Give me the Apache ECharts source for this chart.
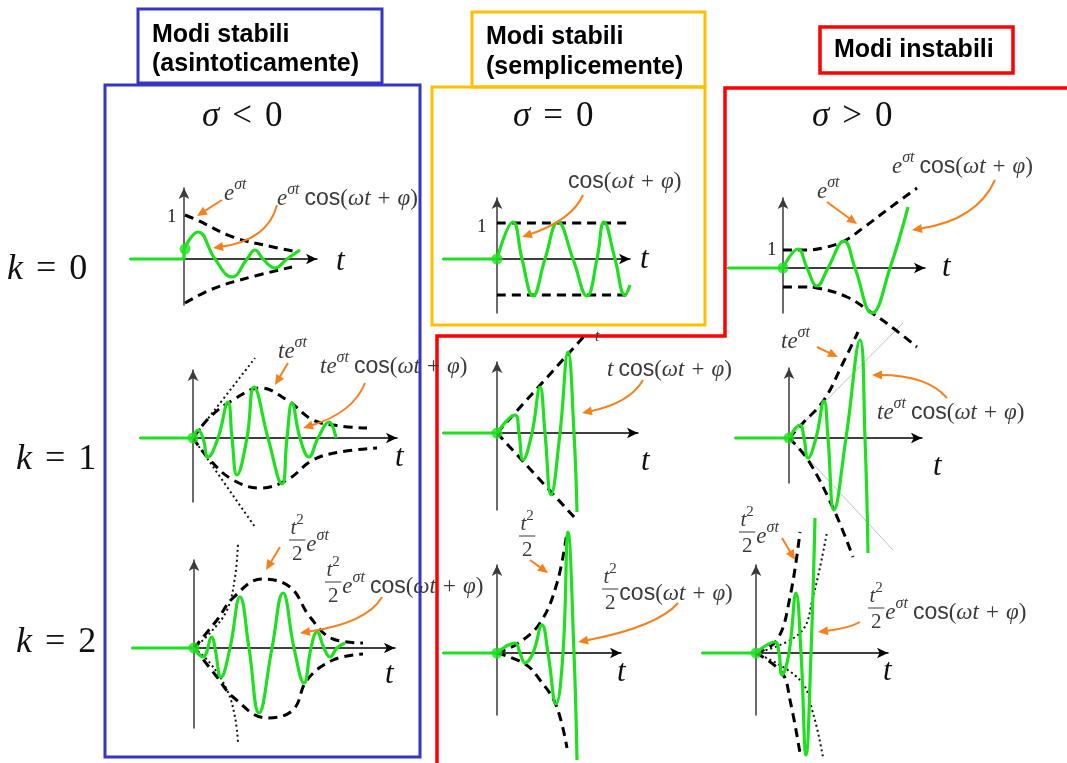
<!DOCTYPE html>
<html><head><meta charset="utf-8">
<script src="https://cdn.jsdelivr.net/npm/echarts@6/dist/echarts.min.js"></script>
<style>html,body{margin:0;padding:0;background:#fff}#c{width:1067px;height:763px}</style>
</head><body><div id="c"></div>
<script>
// ===== DATA (t to the right of each panel origin, y upward) =====
const rowLabels = ['0', '1', '2'];            // k = 0, 1, 2
const colSigns = ['<', '=', '>'];             // sigma < 0, = 0, > 0
const headerLines = [['Modi stabili', '(asintoticamente)'], ['Modi stabili', '(semplicemente)'], ['Modi instabili']];

// sigma<0, k=0
const A_flat = [[-54, 0], [0, 0], [0, 10]];
const A_wave = [[0, 10], [14, 27], [31, 0], [48, -18], [63, 0], [71, 9], [79, 0], [91, -9], [103, 0], [116, 9]];
const A_envUp = [[1, 44], [13, 39], [49, 22], [89, 12], [109, 8]];
const A_envLo = [[1, -44], [26, -31], [56, -21], [108, -8]];
// sigma=0, k=0
const B_flat = [[-54, 0], [0, 0]];
const B_wave = [[0, 0], [16, 37], [25, 0], [36, -37], [48, 0], [61, 37], [76, 0], [90, -37], [100, 0], [107, 37], [118, 0], [128, -36], [133, -26]];
const B_envUp = [[0, 36], [136, 36]];
const B_envLo = [[0, -36], [136, -36]];
// sigma>0, k=0
const C_flat = [[-55, 0], [0, 0]];
const C_wave = [[0, 0], [15, 19], [24, 0], [34, -18], [45, 0], [61, 27], [72, 0], [89, -45], [107, 0], [125, 61]];
const C_envUp = [[0, 18], [20, 18], [40, 20], [61, 27], [80, 40], [104, 58], [134, 80]];
const C_envLo = [[0, -19], [20, -19], [34, -20], [64, -29], [89, -45], [110, -60], [134, -79]];
// sigma<0, k=1
const D_flat = [[-53, 0], [0, 0]];
const D_wave = [[0, 0], [5, 8], [10, 0], [15, -19], [25, 0], [35, 36], [39, 0], [44, -37], [54, 0], [61, 51], [75, 0], [89, -46], [94, 0], [99, 35], [107, 0], [116, -19], [125, 0], [136, 16], [143, 0]];
const D_envUp = [[0, 0], [17, 21], [40, 38], [67, 50], [94, 38], [120, 18], [147, 12], [174, 10]];
const D_envLo = [[0, 0], [17, -22], [40, -42], [67, -50], [94, -42], [120, -22], [147, -14], [184, -10]];
const D_tUp = [[0, 0], [62, 80]];
const D_tLo = [[0, 0], [62, -89]];
// sigma=0, k=1
const E_flat = [[-54, 0], [0, 0]];
const E_wave = [[0, 0], [18, 18], [22, 0], [26, -27], [35, 0], [43, 46], [48, 0], [54, -62], [63, 0], [71, 81], [77, 0], [80, -79]];
const E_tUp = [[0, 0], [90, 100]];
const E_tLo = [[0, 0], [78, -85]];
// sigma>0, k=1
const F_flat = [[-54, 0], [0, 0]];
const F_wave = [[0, 0], [11, 13], [15, 0], [19, -20], [27, 0], [35, 37], [39, 0], [45, -72], [57, 0], [71, 98], [76, 0], [79, -115]];
const F_envUp = [[0, 0], [14, 15], [35, 38], [54, 75], [69, 106]];
const F_envLo = [[0, 0], [19, -22], [45, -72], [64, -119]];
const F_tUp = [[0, 0], [114, 115]];
const F_tLo = [[0, 0], [104, -112]];
// sigma<0, k=2
const G_flat = [[-62, 0], [0, 0]];
const G_wave = [[0, 0], [9, -9], [18, 11], [21, 0], [27, -29], [36, 0], [46, 51], [55, 0], [65, -65], [78, 0], [89, 55], [100, 0], [110, -35], [117, 0], [123, 16], [130, 0], [136, -9], [143, 0], [151, 5]];
const G_envUp = [[0, 0], [23, 28], [39, 50], [68, 69], [96, 61], [116, 31], [139, 9], [169, 5]];
const G_envLo = [[0, 0], [23, -29], [39, -49], [73, -70], [99, -62], [113, -32], [139, -12], [169, -6]];
const G_pUp = [[0, 0], [16, 15], [33, 38], [41, 71], [44, 105]];
const G_pLo = [[0, 0], [16, -15], [33, -42], [41, -69], [44, -95]];
// sigma=0, k=2
const H_flat = [[-54, 0], [0, 0]];
const H_wave = [[0, 0], [18, 10], [23, 0], [28, -10], [36, 0], [45, 28], [51, 0], [59, -51], [66, 0], [71, 121], [77, 0], [80, -107]];
const H_pUp = [[0, 0], [20, 9], [43, 30], [60, 70], [70, 121]];
const H_pLo = [[0, 0], [28, -11], [43, -27], [59, -52], [70, -95]];
// sigma>0, k=2
const I_flat = [[-54, 0], [0, 0]];
const I_wave = [[0, 0], [19, 11], [23, 0], [26, -22], [33, 0], [40, 60], [45, 0], [50, -102], [55, 0], [59, 135]];
const I_envUp = [[0, 0], [21, 13], [34, 56], [44, 121]];
const I_envLo = [[0, 0], [26, -20], [34, -47], [44, -100]];
const I_pUp = [[0, 0], [44, 20], [57, 56], [71, 121]];
const I_pLo = [[0, 0], [44, -27], [57, -60], [67, -104]];

// ===== LAYOUT & STYLE =====
const GREEN = '#1fe01f', ORANGE = '#f7801e', BLUE = '#3535c8', GOLD = '#ffc000', RED = '#ff0000', TXT = '#3a3a3a';
const SERIF = '"Liberation Serif", "DejaVu Serif", serif';
const SANS = '"Liberation Sans", Arial, sans-serif';

const panels = [
  {ox: 184, oy: 259, x: [-54, 133], y: [-46, 71], flat: A_flat, wave: A_wave, dot: [1, 10], dashed: [A_envUp, A_envLo], dotted: [], thin: []},
  {ox: 497, oy: 259, x: [-54, 133], y: [-54, 61], flat: B_flat, wave: B_wave, dot: [0, 0], dashed: [B_envUp, B_envLo], dotted: [], thin: []},
  {ox: 783, oy: 268, x: [-55, 142], y: [-45, 70], flat: C_flat, wave: C_wave, dot: [0, 0], dashed: [C_envUp, C_envLo], dotted: [], thin: []},
  {ox: 193, oy: 438, x: [-53, 204], y: [-64, 68], flat: D_flat, wave: D_wave, dot: [0, 0], dashed: [D_envUp, D_envLo], dotted: [D_tUp, D_tLo], thin: []},
  {ox: 497, oy: 433, x: [-54, 141], y: [-77, 71], flat: E_flat, wave: E_wave, dot: [0, 0], dashed: [E_tUp, E_tLo], dotted: [], thin: []},
  {ox: 789, oy: 438, x: [-54, 133], y: [-45, 70], flat: F_flat, wave: F_wave, dot: [0, 0], dashed: [F_envUp, F_envLo], dotted: [], thin: [F_tUp, F_tLo]},
  {ox: 194, oy: 648, x: [-62, 201], y: [-80, 88], flat: G_flat, wave: G_wave, dot: [0, 0], dashed: [G_envUp, G_envLo], dotted: [G_pUp, G_pLo], thin: []},
  {ox: 497, oy: 653, x: [-54, 124], y: [-62, 88], flat: H_flat, wave: H_wave, dot: [0, 0], dashed: [H_pUp, H_pLo], dotted: [], thin: []},
  {ox: 756, oy: 653, x: [-54, 132], y: [-62, 88], flat: I_flat, wave: I_wave, dot: [0, 0], dashed: [I_envUp, I_envLo], dotted: [I_pUp, I_pLo], thin: []}
];

const grid = [], xAxis = [], yAxis = [], series = [];
const hidden = {axisTick: {show: false}, axisLabel: {show: false}, splitLine: {show: false}};
function lineS(gi, data, style, smooth, z) {
  return {type: 'line', xAxisIndex: gi, yAxisIndex: gi, data: data, symbol: 'none', showSymbol: false,
    smooth: smooth, clip: false, silent: true, z: z, lineStyle: style, animation: false};
}
panels.forEach((p, gi) => {
  grid.push({left: p.ox + p.x[0], top: p.oy - p.y[1], width: p.x[1] - p.x[0], height: p.y[1] - p.y[0], containLabel: false});
  xAxis.push(Object.assign({gridIndex: gi, type: 'value', min: p.x[0], max: p.x[1],
    axisLine: {onZero: true, symbol: ['none', 'arrow'], symbolSize: [8, 11], lineStyle: {color: '#000', width: 1.5}}}, hidden));
  yAxis.push(Object.assign({gridIndex: gi, type: 'value', min: p.y[0], max: p.y[1],
    axisLine: {onZero: true, symbol: ['none', 'arrow'], symbolSize: [8, 11], lineStyle: {color: '#3a3a3a', width: 1.5}}}, hidden));
  p.thin.forEach(d => series.push(lineS(gi, d, {color: '#b0b0b0', width: 0.8}, false, 3)));
  p.dotted.forEach(d => series.push(lineS(gi, d, {color: '#111', width: 2, type: [2, 3]}, 0.4, 4)));
  p.dashed.forEach(d => series.push(lineS(gi, d, {color: '#000', width: 3, type: [9, 6]}, 0.4, 4)));
  series.push(lineS(gi, p.flat, {color: GREEN, width: 3.2}, false, 6));
  series.push(lineS(gi, p.wave, {color: GREEN, width: 3.2}, 0.45, 6));
  series.push({type: 'scatter', xAxisIndex: gi, yAxisIndex: gi, data: [p.dot], symbolSize: 11,
    itemStyle: {color: GREEN}, z: 7, silent: true, animation: false});
});

// ===== text helpers =====
const mctx = document.createElement('canvas').getContext('2d');
function fontOf(kind, size) {
  const sup = kind === 'I' || kind === 'R';
  const fs = sup ? Math.round(size * 0.7) : size;
  const fam = kind === 's' ? SANS : SERIF;
  const st = (kind === 'i' || kind === 'I') ? 'italic ' : '';
  return {font: st + fs + 'px ' + fam, sup: sup};
}
function measure(toks, size) {
  let w = 0;
  toks.forEach(([t, k]) => {
    if (k === 'gap') { w += t; return; }
    mctx.font = fontOf(k, size).font; w += mctx.measureText(t).width;
  });
  return w;
}
function math(x, y, toks, size, color) {
  const out = [];
  let cx = x;
  toks.forEach(([t, k]) => {
    if (k === 'gap') { cx += t; return; }
    const f = fontOf(k, size);
    out.push({type: 'text', z: 20, silent: true, x: cx, y: f.sup ? y - size * 0.42 : y,
      style: {text: t, font: f.font, fill: color || TXT, align: 'left', verticalAlign: 'middle', textAlign: 'left', textVerticalAlign: 'middle'}});
    mctx.font = f.font; cx += mctx.measureText(t).width;
  });
  return out;
}
function frac(x, yLine, num, den, tail, size, tailSize) {
  const wn = measure(num, size), wd = measure(den, size);
  const w = Math.max(wn, wd) + 3;
  let out = [];
  out = out.concat(math(x + (w - wn) / 2, yLine - size * 0.55, num, size));
  out = out.concat(math(x + (w - wd) / 2, yLine + size * 0.68, den, size));
  out.push({type: 'line', z: 20, silent: true, shape: {x1: x, y1: yLine, x2: x + w, y2: yLine}, style: {stroke: TXT, lineWidth: 1}});
  if (tail.length) out = out.concat(math(x + w + 1, yLine + 5, tail, tailSize));
  return out;
}
function arrow(x1, y1, cx, cy, x2, y2) {
  if (cx === null) { cx = (x1 + x2) / 2; cy = (y1 + y2) / 2; }
  const ang = Math.atan2(y2 - cy, x2 - cx);
  const L = 10, W = 4.5;
  const bx = x2 - L * Math.cos(ang), by = y2 - L * Math.sin(ang);
  return [
    {type: 'bezierCurve', z: 19, silent: true, shape: {x1: x1, y1: y1, x2: bx + 2 * Math.cos(ang), y2: by + 2 * Math.sin(ang), cpx1: cx, cpy1: cy},
      style: {stroke: ORANGE, lineWidth: 2, fill: 'none'}},
    {type: 'polygon', z: 19, silent: true, shape: {points: [[x2, y2], [bx - W * Math.sin(ang), by + W * Math.cos(ang)], [bx + W * Math.sin(ang), by - W * Math.cos(ang)]]},
      style: {fill: ORANGE}}
  ];
}

const EXP = [['e', 'i'], ['σt', 'I']];
const TEXP = [['t', 'i'], ['e', 'i'], ['σt', 'I']];
const COS = [['cos', 's'], ['(', 'r'], ['ωt', 'i'], [7, 'gap'], ['+', 'r'], [7, 'gap'], ['φ', 'i'], [')', 'r']];
const SP = [[5, 'gap']];
const T2 = [['t', 'i'], ['2', 'R']];
const TWO = [['2', 'r']];
const MS = 23;

let g = [];
// boxes
function rect(x, y, w, h, c, lw) {
  return {type: 'rect', z: 1, silent: true, shape: {x: x, y: y, width: w, height: h}, style: {fill: 'none', stroke: c, lineWidth: lw}};
}
g.push(rect(138, 9, 244, 74, BLUE, 3));
g.push(rect(105, 85, 315, 672, BLUE, 3));
g.push(rect(472, 12, 233, 75, GOLD, 3));
g.push(rect(432, 87, 273, 238, GOLD, 3));
g.push(rect(820, 27, 193, 46, RED, 3.5));
g.push({type: 'polyline', z: 1, silent: true, shape: {points: [[437, 763], [437, 336], [725, 336], [725, 88], [1070, 88]]}, style: {stroke: RED, lineWidth: 3.5, fill: 'none'}});
// headers
const headerPos = [[152, 35, 64], [486, 37, 67], [834, 50, 0]];
headerLines.forEach((ls, i) => ls.forEach((t, j) => g.push({type: 'text', z: 20, silent: true, x: headerPos[i][0], y: headerPos[i][1 + j],
  style: {text: t, font: 'bold 25px ' + SANS, fill: '#000', align: 'left', verticalAlign: 'middle', textAlign: 'left', textVerticalAlign: 'middle'}})));
// column titles and row labels
const colPos = [[202, 117], [513, 117], [812, 117]];
colSigns.forEach((s, i) => g = g.concat(math(colPos[i][0], colPos[i][1], [['σ', 'i'], [13, 'gap'], [s, 'r'], [13, 'gap'], ['0', 'r']], 35, '#111')));
const rowPos = [[7, 270], [16, 460], [16, 643]];
rowLabels.forEach((s, i) => g = g.concat(math(rowPos[i][0], rowPos[i][1], [['k', 'i'], [13, 'gap'], ['=', 'r'], [13, 'gap'], [s, 'r']], 36, '#111')));
// axis names t and the "1" ticks
[[336, 262], [640, 260], [942, 268], [395, 458], [641, 462], [933, 467], [385, 675], [617, 673], [883, 672]].forEach(p =>
  g = g.concat(math(p[0], p[1], [['t', 'i']], 31, '#111')));
[[167, 217], [477, 227], [767, 250]].forEach(p => g = g.concat(math(p[0], p[1], [['1', 'r']], 19, '#222')));
g = g.concat(math(595, 337, [['t', 'i']], 16));

// formula labels
g = g.concat(math(224, 194, EXP, MS));
g = g.concat(math(277, 199, EXP.concat(SP, COS), MS));
g = g.concat(math(568, 182, COS, MS));
g = g.concat(math(817, 192, EXP, MS));
g = g.concat(math(892, 167, EXP.concat(SP, COS), MS));
g = g.concat(math(278, 352, TEXP, MS));
g = g.concat(math(320, 367, TEXP.concat(SP, COS), MS));
g = g.concat(math(607, 370, [['t', 'i'], [5, 'gap']].concat(COS), MS));
g = g.concat(math(781, 342, TEXP, MS));
g = g.concat(math(877, 413, TEXP.concat(SP, COS), MS));
g = g.concat(frac(289, 540, T2, TWO, EXP, 21, 23));
g = g.concat(frac(325, 582, T2, TWO, EXP.concat(SP, COS), 21, 23));
g = g.concat(frac(519, 536, T2, TWO, [], 21, 23));
g = g.concat(frac(602, 589, T2, TWO, COS, 21, 23));
g = g.concat(frac(739, 532, T2, TWO, EXP, 21, 23));
g = g.concat(frac(868, 608, T2, TWO, EXP.concat(SP, COS), 21, 23));

// orange pointers
g = g.concat(arrow(222, 200, null, null, 197, 216));
g = g.concat(arrow(277, 205, 268, 240, 213, 248));
g = g.concat(arrow(583, 195, 572, 220, 522, 237));
g = g.concat(arrow(827, 202, null, null, 857, 224));
g = g.concat(arrow(995, 180, 977, 220, 912, 230));
g = g.concat(arrow(288, 363, null, null, 275, 385));
g = g.concat(arrow(365, 383, 353, 413, 303, 428));
g = g.concat(arrow(643, 380, 630, 403, 582, 413));
g = g.concat(arrow(817, 347, null, null, 838, 357));
g = g.concat(arrow(947, 398, 927, 375, 872, 375));
g = g.concat(arrow(280, 547, null, null, 266, 570));
g = g.concat(arrow(382, 597, 367, 623, 300, 633));
g = g.concat(arrow(530, 560, null, null, 548, 573));
g = g.concat(arrow(678, 603, 657, 627, 578, 642));
g = g.concat(arrow(782, 538, null, null, 795, 560));
g = g.concat(arrow(860, 622, 850, 628, 818, 632));

const chart = echarts.init(document.getElementById('c'), null, {renderer: 'canvas'});
chart.setOption({
  backgroundColor: '#fff',
  animation: false,
  grid: grid, xAxis: xAxis, yAxis: yAxis, series: series,
  graphic: {elements: g}
});
</script>
</body></html>
